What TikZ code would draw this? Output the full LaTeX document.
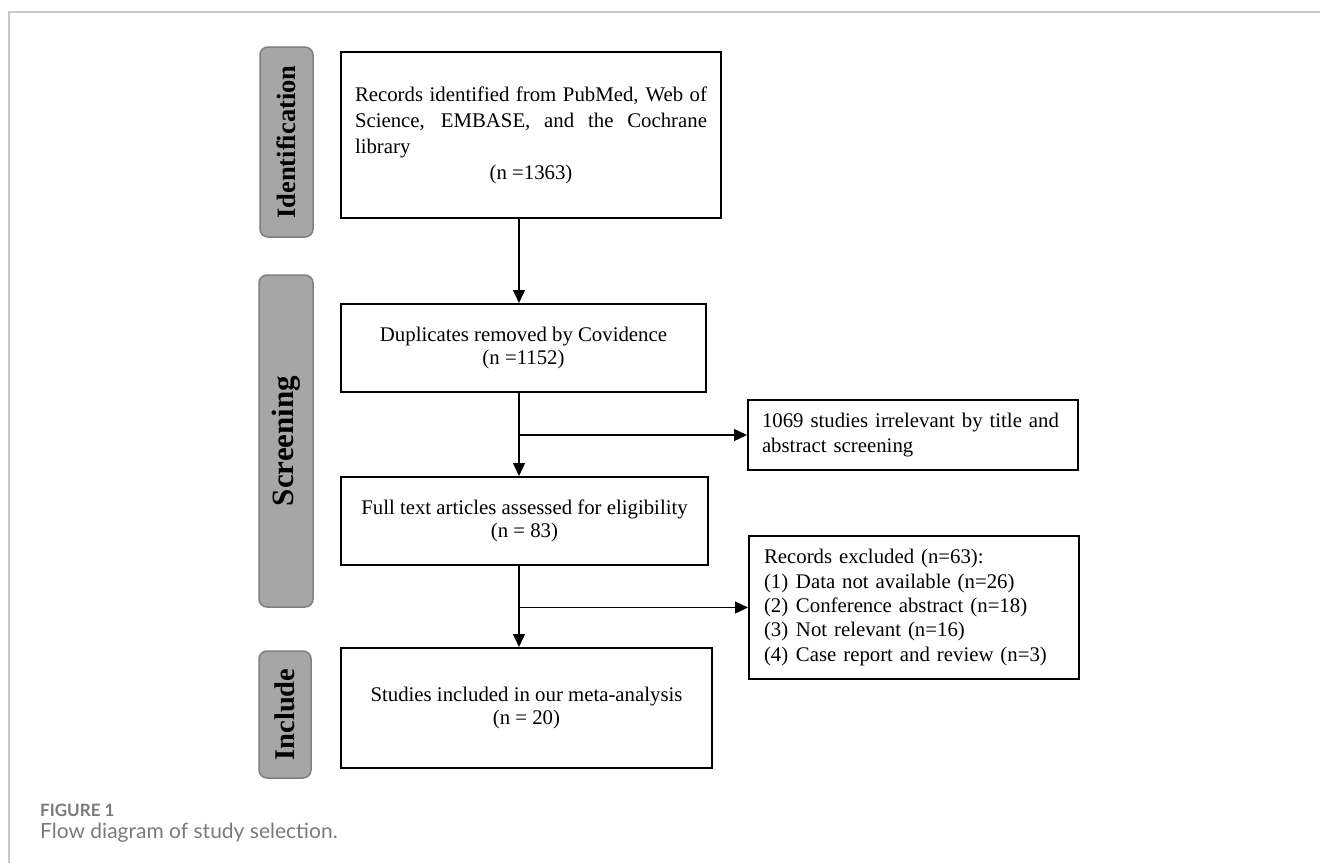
\documentclass[tikz,border=0pt]{standalone}
\usepackage{fontspec}
\setmainfont{Liberation Serif}
\newfontfamily\capfont{Lato}
\usetikzlibrary{arrows.meta}
\definecolor{tabfill}{HTML}{A6A6A6}
\definecolor{tabedge}{HTML}{7F7F7F}
\definecolor{framegray}{HTML}{C8C8C8}
\definecolor{capgray}{HTML}{7A7A7A}
\begin{document}
\begin{tikzpicture}[x=1pt,y=-1pt,
  box/.style={draw=black,line width=2pt,inner sep=0pt,font=\fontsize{20.8}{22.5}\selectfont},
  tab/.style={draw=tabedge,fill=tabfill,rounded corners=8pt,line width=1.5pt,inner sep=0pt},
  tablabel/.style={rotate=90,inner sep=0pt},
  conn/.style={line width=1.3pt},
  arr/.style={conn,-{Triangle[length=13pt,width=12pt]}},
]
\useasboundingbox (0,0) rectangle (1320,863);
\draw[framegray,line width=1.2pt] (9,863) -- (9,12) -- (1320,12);

% phase tabs
\node[tab,minimum width=53pt,minimum height=190pt] (t1) at (286.5,142) {};
\node[tablabel,font=\fontsize{26.5}{30}\selectfont\bfseries] (l1) at (t1.center) {Identification};
\node[tab,minimum width=54pt,minimum height=332pt] (t2) at (286,441) {};
\node[tablabel,font=\fontsize{31}{34}\selectfont\bfseries] (l2) at (t2.center) {Screening};
\node[tab,minimum width=52pt,minimum height=127pt] (t3) at (285,714.5) {};
\node[tablabel,font=\fontsize{28.5}{32}\selectfont\bfseries] (l3) at (t3.center) {Include};

% main column
\node[box,minimum width=380pt,minimum height=166pt,text width=352pt,align=justify,
      font=\fontsize{20.8}{26}\selectfont] (b1) at (531,135)
  {Records identified from PubMed, Web of\linebreak Science, EMBASE, and the Cochrane\linebreak library\par{\centering (n =1363)\par}};
\node[box,minimum width=365pt,minimum height=88pt,align=center] (b2) at (523.5,348)
  {Duplicates removed by Covidence\\(n =1152)};
\node[box,minimum width=367pt,minimum height=88pt,align=center] (b4) at (524.5,521)
  {Full text articles assessed for eligibility\\(n = 83)};
\node[box,minimum width=371pt,minimum height=120pt,align=center] (b6) at (526.5,708)
  {Studies included in our meta-analysis\\(n = 20)};

% side boxes
\node[box,minimum width=330pt,minimum height=70pt,text width=302pt,align=left,
      font=\fontsize{20.8}{25}\selectfont] (b3) at (913,435)
  {1069 studies irrelevant by title and\\abstract screening};
\node[box,minimum width=330pt,minimum height=143pt,text width=300pt,align=left,
      font=\fontsize{20.8}{24.3}\selectfont] (b5) at (914,607.5)
  {Records excluded (n=63):\\
   \makebox[32pt][l]{(1)}Data not available (n=26)\\
   \makebox[32pt][l]{(2)}Conference abstract (n=18)\\
   \makebox[32pt][l]{(3)}Not relevant (n=16)\\
   \makebox[32pt][l]{(4)}Case report and review (n=3)};

% connectors
\coordinate (sp) at (519,0);
\draw[arr] (b1.south -| sp) -- (b2.north -| sp);
\draw[arr] (b2.south -| sp) -- (b4.north -| sp);
\draw[arr] (b3.west -| sp) -- (b3.west);
\draw[arr] (b4.south -| sp) -- (b6.north -| sp);
\draw[arr] (b5.west -| sp) -- (b5.west);

% caption
\node[anchor=west,inner sep=0pt,text=capgray,font=\capfont\bfseries\fontsize{17}{20}\selectfont] (fig) at (40,810) {FIGURE 1};
\node[anchor=west,inner sep=0pt,text=capgray,font=\capfont\fontsize{21}{24}\selectfont] (cap) at (40,833) {Flow diagram of study selection.};
\end{tikzpicture}
\end{document}
